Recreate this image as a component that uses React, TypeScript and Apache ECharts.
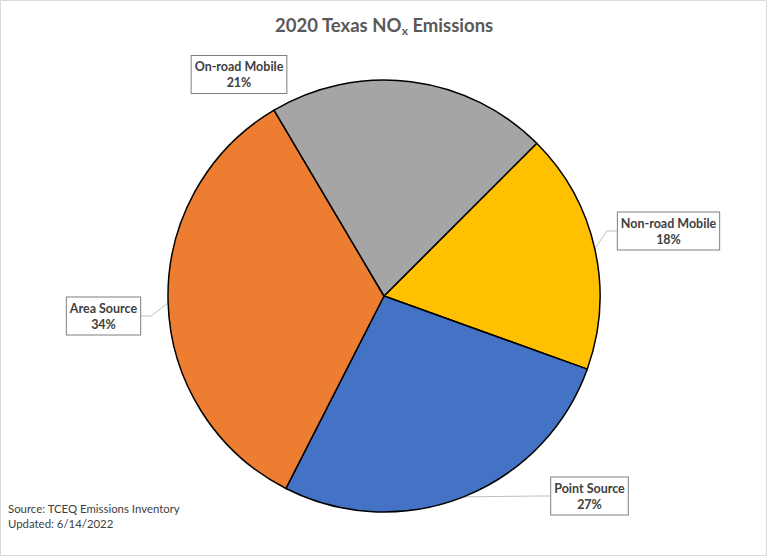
import React, { useEffect, useRef } from "react";
import * as echarts from "echarts";

const categories = ["Non-road Mobile", "Point Source", "Area Source", "On-road Mobile"];
const values = [18, 27, 34, 21];
const colors = ["#FFC000", "#4472C4", "#ED7D31", "#A5A5A5"];
const sourceLines = ["Source: TCEQ Emissions Inventory", "Updated: 6/14/2022"];

// label box centers (layout only)
const labelCenters = [
  [668.5, 231],
  [589.5, 496],
  [103.5, 316],
  [239, 74.5],
];

const FONT = "Lato, 'Open Sans', sans-serif";

export default function App() {
  const ref = useRef<HTMLDivElement>(null);
  useEffect(() => {
    if (!ref.current) return;
    const chart = echarts.init(ref.current, null, { renderer: "svg" });
    chart.setOption({
      animation: false,
      backgroundColor: "#ffffff",
      title: {
        text: "{a|2020 Texas NO}{s|x}{a| Emissions}",
        left: "center",
        top: 8,
        textStyle: {
          rich: {
            a: { fontSize: 18.5, fontWeight: "bold", color: "#595959", fontFamily: FONT, lineHeight: 24 },
            s: { fontSize: 12, fontWeight: "bold", color: "#595959", fontFamily: FONT, lineHeight: 24, padding: [11, 0, 0, 0] },
          },
        },
      },
      graphic: [
        {
          type: "rect",
          shape: { x: 0.5, y: 0.5, width: 766, height: 555 },
          style: { fill: "none", stroke: "#d9d9d9", lineWidth: 1 },
          silent: true,
          z: 0,
        },
        {
          type: "text",
          left: 8,
          top: 501,
          style: {
            text: sourceLines.join("\n"),
            fontSize: 11.4,
            lineHeight: 15,
            fill: "#404040",
            fontFamily: FONT,
          },
        },
      ],
      series: [
        {
          type: "pie",
          center: [384, 296],
          radius: 216,
          startAngle: 45,
          clockwise: true,
          percentPrecision: 0,
          data: categories.map((name, i) => ({
            name,
            value: values[i],
            itemStyle: { color: colors[i] },
            labelLine: { show: name !== "On-road Mobile" },
          })),
          itemStyle: { borderColor: "#000000", borderWidth: 1.5 },
          label: {
            show: true,
            formatter: "{b}\n{d}%",
            fontSize: 12.5,
            fontWeight: "bold",
            color: "#404040",
            fontFamily: FONT,
            lineHeight: 16,
            align: "center",
            backgroundColor: "#ffffff",
            borderColor: "#7f7f7f",
            borderWidth: 1,
            padding: [3, 3, 2, 3],
          },
          labelLine: {
            show: true,
            length: 10,
            length2: 10,
            lineStyle: { color: "#bfbfbf", width: 1 },
          },
          labelLayout: (params: any) => {
            const c = labelCenters[params.dataIndex];
            return { x: c[0], y: c[1], align: "center", verticalAlign: "middle" };
          },
          emphasis: { disabled: true },
        },
      ],
    });
    return () => chart.dispose();
  }, []);
  return (
    <div
      ref={ref}
      style={{ position: "fixed", left: 0, top: 0, width: 768, height: 557 }}
    />
  );
}
